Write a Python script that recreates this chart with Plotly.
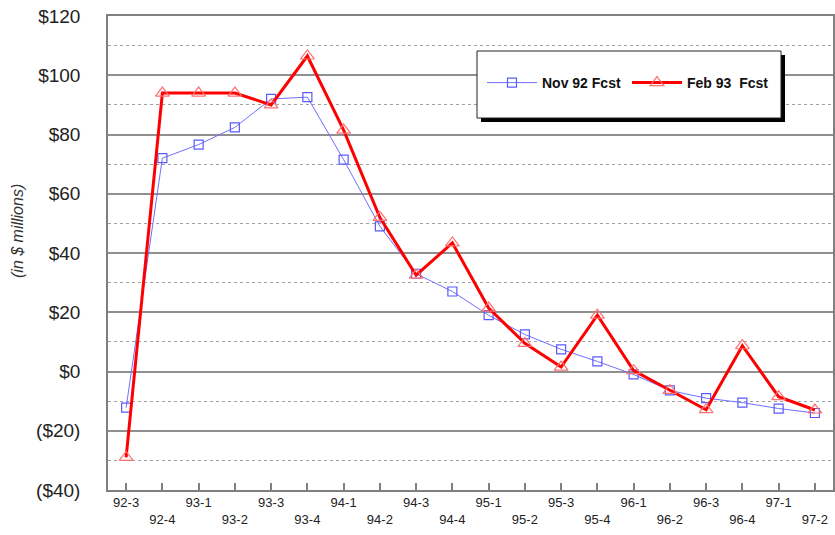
import plotly.graph_objects as go

quarters = ["92-3", "92-4", "93-1", "93-2", "93-3", "93-4", "94-1", "94-2", "94-3", "94-4",
            "95-1", "95-2", "95-3", "95-4", "96-1", "96-2", "96-3", "96-4", "97-1", "97-2"]
nov92 = [-12.2, 72, 76.6, 82.4, 92, 92.6, 71.5, 49, 33, 27,
         19, 12.5, 7.5, 3.4, -1, -6.4, -9, -10.5, -12.5, -14]
feb93 = [-29, 94, 94, 94, 90, 106.5, 81.5, 52, 32.5, 43.4,
         21.4, 9.5, 1.5, 19, 0.3, -6.4, -12.9, 8.7, -8.5, -13]
ytick_vals = [-40, -20, 0, 20, 40, 60, 80, 100, 120]
ytick_text = ["($40)", "($20)", "$0", "$20", "$40", "$60", "$80", "$100", "$120"]

# plot area in page pixels
L, R, T, B = 108, 833, 16, 490
W, H = 835, 535

def px(x):
    return (x - L) / (R - L)

def py(y):
    return (B - y) / (B - T)

fig = go.Figure()
fig.add_trace(go.Scatter(
    x=quarters, y=nov92, name="Nov 92 Fcst", mode="lines+markers",
    line=dict(color="#6f6fff", width=1),
    marker=dict(symbol="square-open", size=9, color="#5a5aff", line=dict(width=1.2))))
fig.add_trace(go.Scatter(
    x=quarters, y=feb93, name="Feb 93\u00a0 Fcst", mode="lines+markers",
    line=dict(color="#ff0000", width=3),
    marker=dict(symbol="triangle-up-open", size=12, color="#ff7070", line=dict(width=1.2))))

ticktext = [q if i % 2 == 0 else "<br>" + q for i, q in enumerate(quarters)]

# legend box with shadow
fig.add_shape(type="rect", xref="paper", yref="paper",
              x0=px(481), x1=px(785), y0=py(122), y1=py(55),
              fillcolor="black", line=dict(width=0))
fig.add_shape(type="rect", xref="paper", yref="paper",
              x0=px(477), x1=px(781), y0=py(118), y1=py(51),
              fillcolor="white", line=dict(color="#222222", width=1))

fig.add_annotation(text="<i>(in $ millions)</i>", textangle=-90, showarrow=False,
                   xref="paper", yref="paper", x=px(17), y=py(231),
                   xanchor="center", yanchor="middle",
                   font=dict(family="Arial, Liberation Sans", size=16, color="#333333"))

fig.update_layout(
    width=W, height=H,
    margin=dict(l=L, r=W - R, t=T, b=H - B, autoexpand=False),
    paper_bgcolor="white", plot_bgcolor="white",
    font=dict(family="Arial, Liberation Sans", color="#222222"),
    showlegend=True,
    legend=dict(orientation="h", x=px(482), y=py(83), xanchor="left", yanchor="middle",
                bgcolor="rgba(0,0,0,0)", borderwidth=0, entrywidth=80, itemwidth=50,
                font=dict(family="Arial, Liberation Sans", size=14, color="#111111", weight="bold")),
    xaxis=dict(type="category", range=[-0.5, len(quarters) - 0.5], automargin=False,
               tickvals=quarters, ticktext=ticktext, tickangle=0,
               ticks="inside", ticklen=7, tickcolor="#808080", tickwidth=1.5,
               showgrid=False, showline=True, linecolor="#808080", linewidth=1.5,
               mirror=True, zeroline=False,
               tickfont=dict(size=13, color="#222222")),
    yaxis=dict(range=[-40, 120], tickvals=ytick_vals, ticktext=ytick_text, automargin=False,
               showgrid=True, gridcolor="#909090", gridwidth=1.5,
               showline=True, linecolor="#808080", linewidth=1.5, mirror=True,
               zeroline=False, ticks="", ticklabelstandoff=22, ticklabeloverflow="allow",
               tickfont=dict(size=19, color="#222222"),
               minor=dict(dtick=10, tick0=0, showgrid=True, gridcolor="#a0a0a0",
                          griddash="dot", gridwidth=1.2)),
)

fig.write_html("out.html", config={"displayModeBar": False},
               post_script="document.body.style.margin = '0';")
